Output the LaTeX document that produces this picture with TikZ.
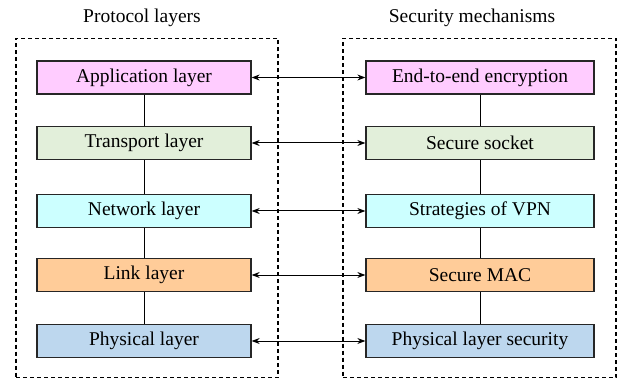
\documentclass[tikz,border=0pt]{standalone}
\usepackage{fontspec}
\setmainfont{Liberation Serif}
\usetikzlibrary{arrows.meta}
\definecolor{cpink}{HTML}{FFCCFF}
\definecolor{cgreen}{HTML}{E2EFDA}
\definecolor{ccyan}{HTML}{CCFFFF}
\definecolor{corange}{HTML}{FFCC99}
\definecolor{cblue}{HTML}{BDD7EE}
\begin{document}
\begin{tikzpicture}[x=1pt,y=-1pt,
  font=\fontsize{19.5}{23}\selectfont,
  layerbox/.style={draw=black!85, line width=1.3pt, minimum height=33pt, inner sep=0pt},
  leftbox/.style={layerbox, minimum width=214pt},
  rightbox/.style={layerbox, minimum width=228pt},
  frame/.style={draw=black, line width=1.3pt, dash pattern=on 4pt off 3pt},
  link/.style={line width=0.9pt},
  biarrow/.style={line width=1pt, {Stealth[length=8pt,width=6pt]}-{Stealth[length=8pt,width=6pt]}}]
\useasboundingbox (0,0) rectangle (620,379);
\node[frame, minimum width=262pt, minimum height=339pt, inner sep=0pt] (lf) at (147,208) {};
\node[frame, minimum width=273pt, minimum height=339pt, inner sep=0pt] (rf) at (479.5,208) {};
\node (lt) at (142,18) {Protocol layers};
\node (rt) at (472,18) {Security mechanisms};
\node[leftbox, fill=cpink] (l1) at (144,77.5) {Application layer};
\node[leftbox, fill=cgreen] (l2) at (144,143) {Transport layer};
\node[leftbox, fill=ccyan] (l3) at (144,211) {Network layer};
\node[leftbox, fill=corange] (l4) at (144,275) {Link layer};
\node[leftbox, fill=cblue] (l5) at (144,341) {Physical layer};
\node[rightbox, fill=cpink] (r1) at (480,77.5) {End-to-end encryption};
\node[rightbox, fill=cgreen] (r2) at (480,143) {Secure socket};
\node[rightbox, fill=ccyan] (r3) at (480,211) {Strategies of VPN};
\node[rightbox, fill=corange] (r4) at (480,275) {Secure MAC};
\node[rightbox, fill=cblue] (r5) at (480,341) {Physical layer security};
\foreach \a/\b in {1/2,2/3,3/4,4/5}{
  \draw[link] (l\a) -- (l\b);
  \draw[link] (r\a) -- (r\b);
}
\foreach \i in {1,...,5}{
  \draw[biarrow] (l\i) -- (r\i);
}
\end{tikzpicture}
\end{document}
